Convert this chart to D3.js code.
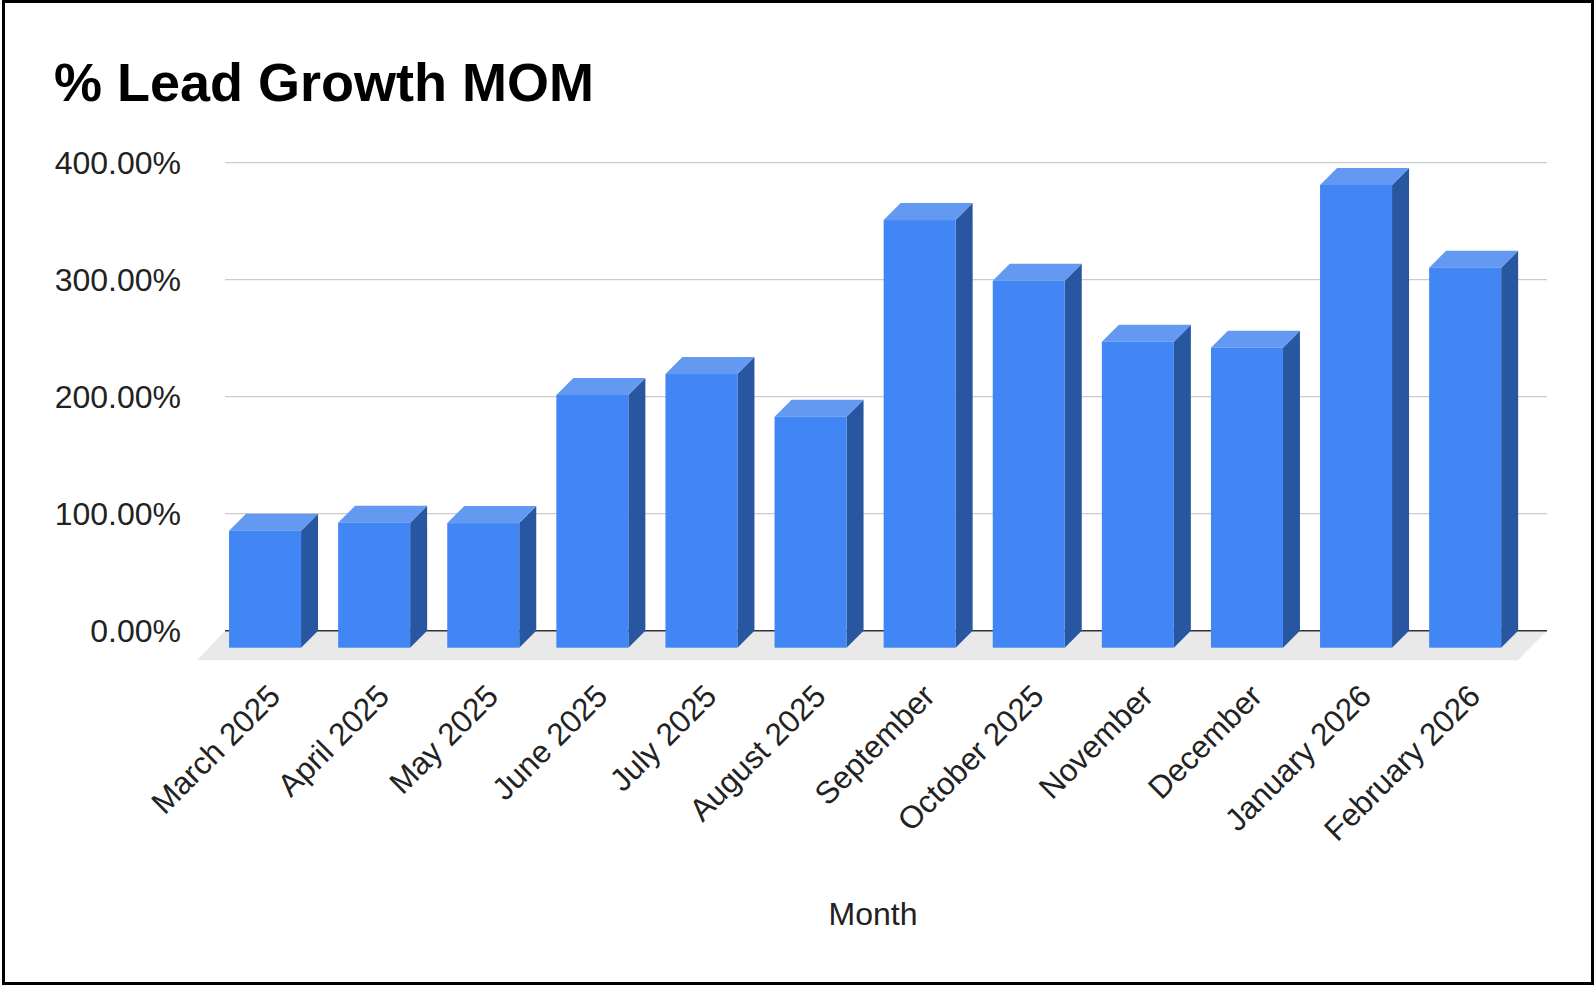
<!DOCTYPE html>
<html>
<head>
<meta charset="utf-8">
<script src="https://cdn.jsdelivr.net/npm/d3@7"></script>
<style>
  body { margin: 0; background: #fff; }
  text { font-family: "Liberation Sans", Arial, sans-serif; }
</style>
</head>
<body>
<div id="chart"></div>
<script>
const months = ["March 2025", "April 2025", "May 2025", "June 2025", "July 2025", "August 2025",
    "September", "October 2025", "November", "December", "January 2026", "February 2026"];
const growth = [100.0, 106.8, 106.5, 216.0, 233.9, 197.4, 365.5, 313.7, 261.5, 256.4, 395.5, 324.8];
const yTicks = [0, 100, 200, 300, 400];

const width = 1595;
const height = 985;
const depth = 17;

const svg = d3.select("#chart").append("svg")
    .attr("width", width)
    .attr("height", height);

// outer frame
svg.append("rect")
    .attr("x", 3.5).attr("y", 1.5)
    .attr("width", width - 6).attr("height", height - 3)
    .attr("fill", "none")
    .attr("stroke", "#000")
    .attr("stroke-width", 3);

svg.append("text")
    .attr("x", 54).attr("y", 101)
    .attr("font-size", 54)
    .attr("font-weight", "bold")
    .attr("fill", "#000")
    .text("% Lead Growth MOM");

// back wall scales
const y = d3.scaleLinear().domain([0, 400]).range([630.7, 162.7]);
const x = d3.scaleBand().domain(months)
    .range([227.5, 1536.7])
    .paddingInner(0.34)
    .paddingOuter(0.17);

const wallLeft = 225, wallRight = 1547;

// floor
svg.append("path")
    .attr("d", `M${wallLeft},${y(0)}L${wallRight},${y(0)}L${wallRight - 29},${y(0) + 29.5}L${wallLeft - 28},${y(0) + 29.5}Z`)
    .attr("fill", "#e9e9e9");

// gridlines
svg.append("g").selectAll("line")
    .data(yTicks)
    .join("line")
    .attr("x1", wallLeft).attr("x2", wallRight)
    .attr("y1", d => y(d)).attr("y2", d => y(d))
    .attr("stroke", d => d === 0 ? "#333" : "#cccccc")
    .attr("stroke-width", d => d === 0 ? 1.5 : 1.2);

svg.append("g").selectAll("text")
    .data(yTicks)
    .join("text")
    .attr("x", 181)
    .attr("y", d => y(d))
    .attr("dy", "0.36em")
    .attr("text-anchor", "end")
    .attr("font-size", 32)
    .attr("fill", "#222")
    .text(d => d3.format(".2f")(d) + "%");

// 3d bars: x() gives the back face, front face is shifted by depth
const bw = x.bandwidth();
const bars = svg.append("g").selectAll("g")
    .data(months.map((m, i) => ({ m, v: growth[i] })))
    .join("g");

bars.append("path")
    .attr("fill", "#2856a0")
    .attr("d", d => {
        const x1 = x(d.m) + bw, t = y(d.v);
        return `M${x1 - depth},${t + depth}L${x1},${t}L${x1},${y(0)}L${x1 - depth},${y(0) + depth}Z`;
    });

bars.append("path")
    .attr("fill", "#6399f1")
    .attr("d", d => {
        const x0 = x(d.m), t = y(d.v);
        return `M${x0 - depth},${t + depth}L${x0},${t}L${x0 + bw},${t}L${x0 + bw - depth},${t + depth}Z`;
    });

bars.append("rect")
    .attr("fill", "#4285f4")
    .attr("x", d => x(d.m) - depth)
    .attr("y", d => y(d.v) + depth)
    .attr("width", bw)
    .attr("height", d => y(0) - y(d.v));

// category labels
svg.append("g").selectAll("text")
    .data(months)
    .join("text")
    .attr("text-anchor", "end")
    .attr("font-size", 31.5)
    .attr("fill", "#222")
    .attr("transform", d => `translate(${x(d) + bw / 2},${698}) rotate(-45)`)
    .text(d => d);

svg.append("text")
    .attr("x", 873).attr("y", 925)
    .attr("text-anchor", "middle")
    .attr("font-size", 32)
    .attr("fill", "#222")
    .text("Month");
</script>
</body>
</html>
